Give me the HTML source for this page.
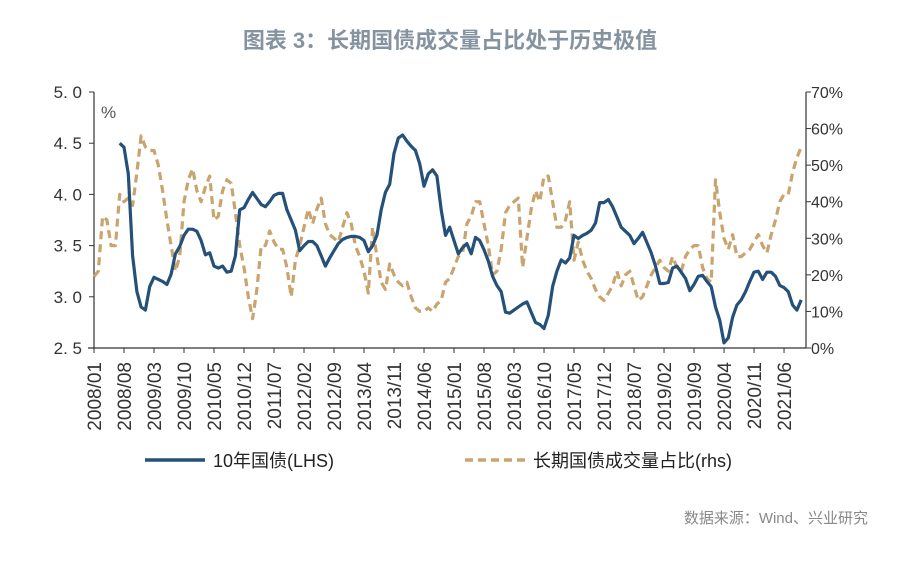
<!DOCTYPE html>
<html><head><meta charset="utf-8"><style>
body{margin:0;background:#fff;width:900px;height:568px;overflow:hidden;font-family:"Liberation Sans","Noto Sans CJK SC",sans-serif}
svg{display:block}
</style></head><body>
<svg id="chart" width="900" height="568">
<text x="450" y="48" text-anchor="middle" font-size="22" fill="#8593a0" font-weight="bold" font-family="Liberation Sans, Noto Sans CJK SC, sans-serif">图表 3：长期国债成交量占比处于历史极值</text>
<text x="101" y="118" font-size="17" fill="#555">%</text>
<g id="axes"></g>
<g id="series"></g>
<g>
<line x1="145" y1="460" x2="205" y2="460" stroke="#24507a" stroke-width="3.5"/>
<text x="213" y="467" font-size="18" fill="#222">10年国债(LHS)</text>
<line x1="465" y1="460" x2="525" y2="460" stroke="#c9a46e" stroke-width="3.5" stroke-dasharray="8,5"/>
<text x="533" y="467" font-size="18" fill="#222">长期国债成交量占比(rhs)</text>
</g>
<text x="868" y="523" text-anchor="end" font-size="15" fill="#888">数据来源：Wind、兴业研究</text>
</svg>
<script>
const xLabels=["2008/01","2008/08","2009/03","2009/10","2010/05","2010/12","2011/07","2012/02","2012/09","2013/04","2013/11","2014/06","2015/01","2015/08","2016/03","2016/10","2017/05","2017/12","2018/07","2019/02","2019/09","2020/04","2020/11","2021/06"];
const leftTicks=[2.5,3.0,3.5,4.0,4.5,5.0];
const rightTicks=[0,10,20,30,40,50,60,70];
const yieldStart=6;
const yieldValues=[4.50,4.46,4.20,3.40,3.05,2.90,2.87,3.10,3.19,3.17,3.15,3.12,3.22,3.42,3.49,3.60,3.66,3.66,3.64,3.55,3.41,3.43,3.30,3.28,3.30,3.24,3.25,3.40,3.85,3.87,3.95,4.02,3.96,3.90,3.88,3.93,3.99,4.01,4.01,3.85,3.75,3.65,3.45,3.50,3.54,3.54,3.50,3.40,3.30,3.38,3.45,3.52,3.56,3.58,3.59,3.59,3.58,3.55,3.44,3.50,3.60,3.85,4.02,4.10,4.40,4.55,4.58,4.52,4.47,4.43,4.30,4.08,4.20,4.24,4.18,3.85,3.60,3.68,3.55,3.42,3.48,3.52,3.42,3.58,3.55,3.46,3.35,3.20,3.11,3.05,2.85,2.84,2.87,2.90,2.93,2.95,2.85,2.75,2.73,2.69,2.82,3.10,3.25,3.36,3.33,3.38,3.60,3.57,3.60,3.62,3.65,3.72,3.92,3.92,3.95,3.88,3.78,3.68,3.64,3.60,3.52,3.57,3.63,3.53,3.43,3.30,3.13,3.13,3.14,3.28,3.30,3.24,3.18,3.06,3.12,3.20,3.21,3.15,3.10,2.90,2.77,2.55,2.60,2.80,2.92,2.97,3.05,3.15,3.24,3.25,3.17,3.24,3.24,3.20,3.11,3.09,3.05,2.92,2.87,2.97];
const shareValues=[19.5,21,36,35,28,28,42,40,41,39,48,58,55,54,54,50,43,35,28,21,25,40,46,49,43,40,44,47,35,36,43,46,45,37,28,22,14,8,16,28,28,32,29,27,27,22,14,24,28,33,38,34,38,41,34,31,30,29,33,37,34,28,25,21,15,33,25,18,16,23,20,18,17,18,14,11,10,10,11,10,12,13,18,19,22,25,26,34,36,40,40,34,28,20,21,27,37,39,40,41,22,30,38,43,40,47,47,40,33,33,35,40,24,29,24,21,19,16,14,13,15,17,21,17,20,21,17,13,14,17,20,22,24,22,21,25,22,21,25,27,28,28,22,19,18,46,37,30,27,31,25,25,26,27,29,31,28,26,31,35,40,42,42,48,52,55];

const X0=94,X1=806,Y0=348,Y1=92,PXM=4.286;
const xScale=i=>X0+i*PXM;
const yL=v=>Y0-(v-2.5)/2.5*(Y0-Y1);
const yR=v=>Y0-v/70*(Y0-Y1);
const NS="http://www.w3.org/2000/svg";
function mk(tag,attrs,parent){const e=document.createElementNS(NS,tag);for(const k in attrs)e.setAttribute(k,attrs[k]);parent.appendChild(e);return e;}
const axes=document.getElementById('axes'),ser=document.getElementById('series');

let e=mk('line',{x1:X0,y1:Y1,x2:X0,y2:Y0,stroke:'#333','stroke-width':1.2},axes);


e=mk('line',{x1:X1,y1:Y1,x2:X1,y2:Y0,stroke:'#333','stroke-width':1.2},axes);


e=mk('line',{x1:X0-6,y1:Y0,x2:X1,y2:Y0,stroke:'#333','stroke-width':1.2},axes);



leftTicks.forEach(v=>{const y=yL(v);
 mk('line',{x1:X0-5,y1:y,x2:X0,y2:y,stroke:'#333'},axes);
 const t=mk('text',{x:X0-12,y:y+6,'text-anchor':'end','font-size':17,fill:'#333'},axes);
 t.textContent=v.toFixed(1).replace('.','. ');
 
 
});
rightTicks.forEach(v=>{const y=yR(v);
 mk('line',{x1:X1,y1:y,x2:X1+5,y2:y,stroke:'#333'},axes);
 const t=mk('text',{x:X1+5,y:y+6,'font-size':16,fill:'#333'},axes);
 t.textContent=v+'%';
 
 
});
xLabels.forEach((l,k)=>{const x=xScale(k*7);
 mk('line',{x1:x,y1:Y0,x2:x,y2:Y0+5,stroke:'#333'},axes);
 const t=mk('text',{x:0,y:0,'text-anchor':'end','font-size':19,fill:'#333',transform:`translate(${x+7},${Y0+14}) rotate(-90)`},axes);
 t.textContent=l;
 
 
});

let d=shareValues.map((v,i)=>(i?'L':'M')+xScale(i).toFixed(1)+','+yR(v).toFixed(1)).join('');
e=mk('path',{d:d,fill:'none',stroke:'#c9a46e','stroke-width':3.2,'stroke-dasharray':'8,5','stroke-linejoin':'round'},ser);


d=yieldValues.map((v,i)=>(i?'L':'M')+xScale(i+yieldStart).toFixed(1)+','+yL(v).toFixed(1)).join('');
e=mk('path',{d:d,fill:'none',stroke:'#24507a','stroke-width':3.2,'stroke-linejoin':'round'},ser);


</script>
</body></html>
